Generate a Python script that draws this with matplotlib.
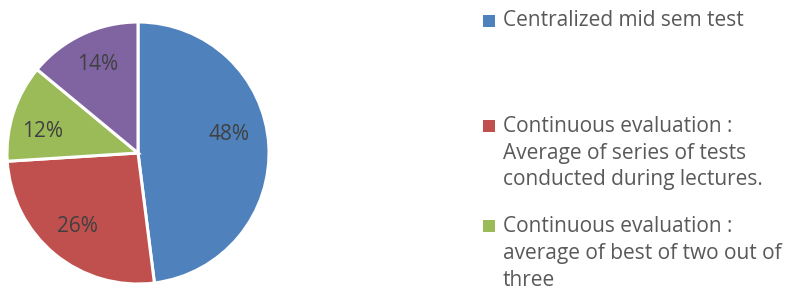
import matplotlib

matplotlib.use("Agg")
import numpy as np
import matplotlib.pyplot as plt
from matplotlib.patches import Rectangle

shares = [48, 26, 12, 14]
pct_labels = ["48%", "26%", "12%", "14%"]
colors = ["#4F81BD", "#C0504D", "#9BBB59", "#8064A2"]
legend_labels = [
    "Centralized mid sem test",
    "Continuous evaluation :\nAverage of series of tests\nconducted during lectures.",
    "Continuous evaluation :\naverage of best of two out of\nthree",
]

W, H = 787, 294
FONT = "Open Sans"
fig = plt.figure(figsize=(W / 100, H / 100), dpi=100)

# pie: centre at (138, 153) px, radius 131 px
cx, cy, r = 138, 153, 131
ax = fig.add_axes([(cx - r) / W, (H - cy - r) / H, 2 * r / W, 2 * r / H])
wedges, texts = ax.pie(
    shares,
    colors=colors,
    startangle=90,
    counterclock=False,
    wedgeprops=dict(edgecolor="white", linewidth=2.2),
)
ax.set_xlim(-1, 1)
ax.set_ylim(-1, 1)
ax.set_aspect("equal")

# data labels roughly where the spreadsheet put them
dists = [0.71, 0.73, 0.745, 0.74]
nudge = [7.6, 0, 5, -0.8]
for w, lab, d, da in zip(wedges, pct_labels, dists, nudge):
    ang = np.deg2rad((w.theta1 + w.theta2) / 2 + da)
    ax.text(d * np.cos(ang), d * np.sin(ang), lab, ha="center", va="center",
            fontsize=15, color="#404040", family=FONT)

# legend drawn by hand (the fourth entry is cut off in the original)
first_line_y = [21, 126, 226]
line_step = 27
for w, lab, y0 in zip(wedges, legend_labels, first_line_y):
    fig.patches.append(Rectangle((483 / W, 1 - (y0 + 6) / H), 12 / W, 12 / H,
                                 transform=fig.transFigure, facecolor=w.get_facecolor(),
                                 edgecolor="none"))
    for i, line in enumerate(lab.split("\n")):
        fig.text(503 / W, 1 - (y0 + i * line_step) / H, line, ha="left", va="center",
                 fontsize=15, color="#595959", family=FONT)

fig.savefig("out.png", dpi=100)
